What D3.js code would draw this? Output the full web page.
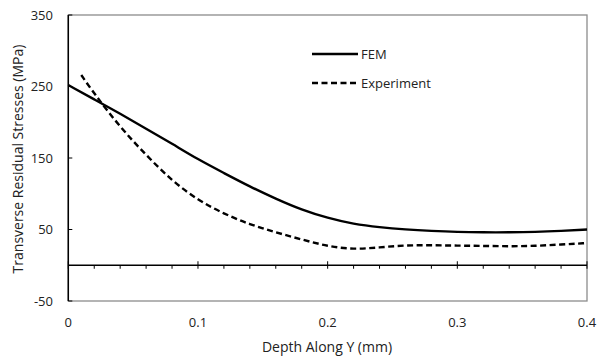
<!DOCTYPE html>
<html><head><meta charset="utf-8">
<script src="https://cdn.jsdelivr.net/npm/d3@7"></script>
<style>body{margin:0;background:#fff}svg{display:block}text{font-family:"Open Sans",sans-serif;fill:#222}</style>
</head><body><svg id="c" width="597" height="358"></svg>
<script>
const femX = [0,0.02,0.04,0.06,0.08,0.10,0.12,0.14,0.16,0.18,0.20,0.22,0.24,0.26,0.28,0.30,0.32,0.34,0.36,0.38,0.40];
const femY = [252,232,212,191,170,148,129,110,93,77.5,66,57.5,53,50,48,46.5,46,46,46.5,48,50];
const expX = [0.01,0.02,0.04,0.06,0.08,0.10,0.12,0.14,0.16,0.18,0.20,0.22,0.24,0.26,0.28,0.30,0.32,0.34,0.36,0.38,0.40];
const expY = [266,240,193,154,118,91,72,57,46,36,26.5,22,25,28,28,27.5,27,26.5,27,29,31];
const xTicks = [0,0.1,0.2,0.3,0.4];
const yTicks = [-50,50,150,250,350];
const seriesNames = ["FEM","Experiment"];

const svg = d3.select("#c");
const L=68.3,R=587,T=15,B=301;
const x = d3.scaleLinear().domain([0,0.4]).range([L,R]);
const y = d3.scaleLinear().domain([-50,350]).range([B,T]);

// frame
svg.append("rect").attr("x",L).attr("y",T).attr("width",R-L).attr("height",B-T)
  .attr("fill","none").attr("stroke","#8c8c8c").attr("stroke-width",1.3);
svg.append("line").attr("x1",L).attr("x2",L).attr("y1",T).attr("y2",B).attr("stroke","#000").attr("stroke-width",1.5);

// y ticks and labels
yTicks.forEach(v=>{
  svg.append("line").attr("x1",L).attr("x2",L+4).attr("y1",y(v)).attr("y2",y(v)).attr("stroke","#000").attr("stroke-width",1);
  svg.append("text").attr("x",53).attr("y",y(v)).attr("dy","0.35em").attr("text-anchor","end")
    .attr("font-size",13).text(String(v));
});

// zero line with ticks
svg.append("line").attr("x1",L).attr("x2",R).attr("y1",y(0)).attr("y2",y(0)).attr("stroke","#000").attr("stroke-width",1.3);
d3.range(0,0.4001,0.02).forEach(v=>{
  const major = Math.abs(v*10-Math.round(v*10))<1e-6;
  svg.append("line").attr("x1",x(v)).attr("x2",x(v))
    .attr("y1",major?y(0)-4:y(0)).attr("y2",y(0)+3.5).attr("stroke","#000").attr("stroke-width",1);
});
xTicks.forEach(v=>{
  svg.append("text").attr("x",x(v)).attr("y",322).attr("dy","0.35em").attr("text-anchor","middle")
    .attr("font-size",13).text(v===0?"0":d3.format(".1f")(v));
});

// axis titles
svg.append("text").attr("x",327).attr("y",347).attr("dy","0.35em").attr("text-anchor","middle")
  .attr("font-size",14).text("Depth Along Y (mm)");
svg.append("text").attr("transform","translate(18,159) rotate(-90)").attr("dy","0.35em").attr("text-anchor","middle")
  .attr("font-size",14).text("Transverse Residual Stresses (MPa)");

// lines
const line = d3.line().x(d=>x(d[0])).y(d=>y(d[1])).curve(d3.curveBasis);
svg.append("path").datum(femX.map((v,i)=>[v,femY[i]])).attr("d",line)
  .attr("fill","none").attr("stroke","#000").attr("stroke-width",2.4);
svg.append("path").datum(expX.map((v,i)=>[v,expY[i]])).attr("d",line)
  .attr("fill","none").attr("stroke","#000").attr("stroke-width",2.4).attr("stroke-dasharray","6,3.5");

// legend
const lg = [[54,null],[83,"6,3.5"]];
seriesNames.forEach((n,i)=>{
  const ly=lg[i][0];
  const l=svg.append("line").attr("x1",312).attr("x2",358).attr("y1",ly).attr("y2",ly).attr("stroke","#000").attr("stroke-width",2.4);
  if(lg[i][1]) l.attr("stroke-dasharray",lg[i][1]);
  svg.append("text").attr("x",361).attr("y",ly).attr("dy","0.35em").attr("font-size",13).text(n);
});
</script></body></html>
